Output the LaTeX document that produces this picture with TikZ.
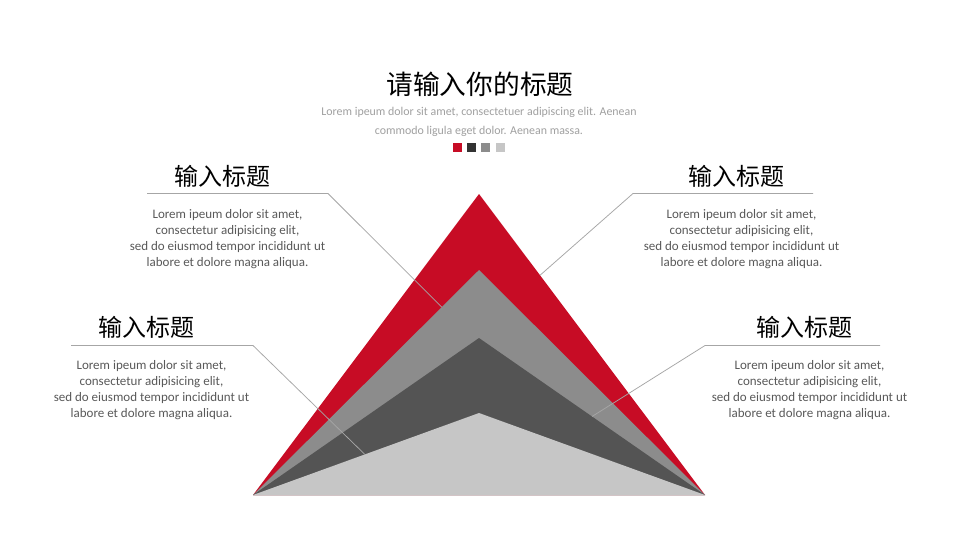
\documentclass[tikz,border=0pt]{standalone}
\usepackage{fontspec}
\setmainfont{Carlito}
\newfontfamily\cjk{Noto Sans CJK SC}
\usetikzlibrary{calc}
\definecolor{pred}{HTML}{C70C25}
\definecolor{pmid}{HTML}{8C8C8C}
\definecolor{pdark}{HTML}{545454}
\definecolor{plight}{HTML}{C6C6C6}
\definecolor{sqdark}{HTML}{333333}
\definecolor{linegray}{HTML}{A6A6A6}
\definecolor{bodygray}{HTML}{595959}
\definecolor{subgray}{HTML}{A0A0A0}
\begin{document}
\begin{tikzpicture}[x=1pt,y=-1pt,
  maintitle/.style={font=\cjk\fontsize{26.7}{32}\selectfont, text=black, inner sep=0pt},
  subtext/.style={font=\fontsize{11.9}{19}\selectfont, text=subgray, align=center, inner sep=0pt},
  headtext/.style={font=\cjk\fontsize{24}{28}\selectfont, text=black, inner sep=0pt},
  bodytext/.style={font=\fontsize{13}{16}\selectfont, text=bodygray, align=center, inner sep=0pt},
  conn/.style={draw=linegray, line width=0.75pt},
  sq/.style={minimum size=9pt, inner sep=0pt, draw=none}]
\useasboundingbox (0,0) rectangle (960,540);
\fill[white] (0,0) rectangle (960,540);

% pyramid corners
\coordinate (BL) at (253,495);
\coordinate (BR) at (705,495);
\coordinate (Ared) at (479,194);
\coordinate (Amid) at (479,270);
\coordinate (Adark) at (479,338);
\coordinate (Alight) at (479,413);
\fill[pred] (BL) -- (Ared) -- (BR) -- cycle;
\fill[pmid] (BL) -- (Amid) -- (BR) -- cycle;
\fill[pdark] (BL) -- (Adark) -- (BR) -- cycle;
\fill[plight] (BL) -- (Alight) -- (BR) -- cycle;

% title block
\node[maintitle] (title) at (480,84.5) {请输入你的标题};
\node[subtext] (sub) at (479,121.5) {Lorem ipeum dolor sit amet, consectetuer adipiscing elit. Aenean\\commodo ligula eget dolor. Aenean massa.};
\node[sq, fill=pred] (s1) at (457,148) {};
\node[sq, fill=sqdark] (s2) at (471.3,148) {};
\node[sq, fill=pmid] (s3) at (485.6,148) {};
\node[sq, fill=plight] (s4) at (500,148) {};

% headings and texts
\node[headtext] (h1) at (222.5,176) {输入标题};
\node[bodytext] (b1) at (227.5,239) {Lorem ipeum dolor sit amet,\\consectetur adipisicing elit,\\sed do eiusmod tempor incididunt ut\\labore et dolore magna aliqua.};
\node[headtext] (h2) at (736,176) {输入标题};
\node[bodytext] (b2) at (741.5,239) {Lorem ipeum dolor sit amet,\\consectetur adipisicing elit,\\sed do eiusmod tempor incididunt ut\\labore et dolore magna aliqua.};
\node[headtext] (h3) at (146,327) {输入标题};
\node[bodytext] (b3) at (151.5,390) {Lorem ipeum dolor sit amet,\\consectetur adipisicing elit,\\sed do eiusmod tempor incididunt ut\\labore et dolore magna aliqua.};
\node[headtext] (h4) at (804,327) {输入标题};
\node[bodytext] (b4) at (809.5,390) {Lorem ipeum dolor sit amet,\\consectetur adipisicing elit,\\sed do eiusmod tempor incididunt ut\\labore et dolore magna aliqua.};

% connector points
\coordinate (tl1) at (147,193.5);
\coordinate (tl2) at (328,193.5);
\coordinate (tl3) at ($(BL)!0.835!(Amid)$);
\coordinate (tr1) at (813,193.5);
\coordinate (tr2) at (633,193.5);
\coordinate (tr3) at ($(Ared)!0.27!(BR)$);
\coordinate (bl1) at (71,345.5);
\coordinate (bl2) at (253,345.5);
\coordinate (bl3) at ($(BL)!0.495!(Alight)$);
\coordinate (br1) at (880,345.5);
\coordinate (br2) at (705,345.5);
\coordinate (br3) at ($(Adark)!0.50!(BR)$);
\draw[conn] (tl1) -- (tl2) -- (tl3);
\draw[conn] (tr1) -- (tr2) -- (tr3);
\draw[conn] (bl1) -- (bl2) -- (bl3);
\draw[conn] (br1) -- (br2) -- (br3);
\end{tikzpicture}
\end{document}
